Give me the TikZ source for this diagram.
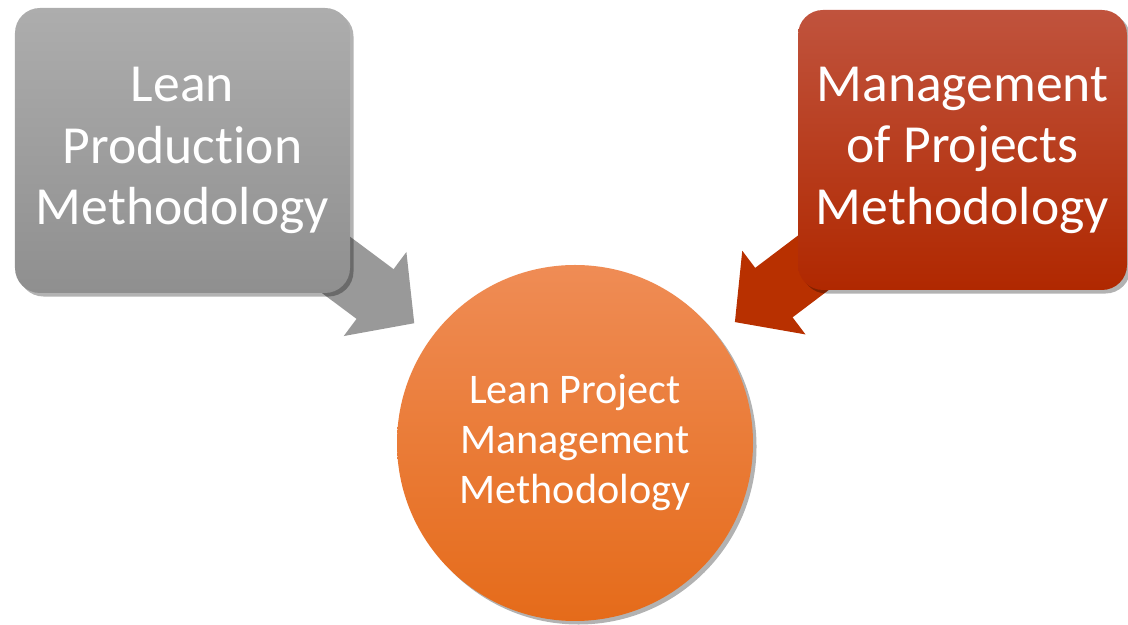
\documentclass[tikz,border=0pt]{standalone}
\usepackage{fontspec}
\setmainfont{Carlito}[Ligatures=NoCommon]
\usetikzlibrary{arrows.meta}
\usetikzlibrary{shadows}
\usetikzlibrary{backgrounds}
\definecolor{greytop}{HTML}{ADADAD}
\definecolor{greybot}{HTML}{8F8F8F}
\definecolor{greyarrow}{HTML}{999999}
\definecolor{redtop}{HTML}{C0533D}
\definecolor{redbot}{HTML}{B02800}
\definecolor{redarrow}{HTML}{B83000}
\definecolor{orangetop}{HTML}{EF8C55}
\definecolor{orangebot}{HTML}{E56B1A}
\tikzset{softshadow/.style = {drop shadow={shadow xshift=2pt, shadow yshift=-2pt,
                                           opacity=0.3, fill=black}}}
\tikzset{methodbox/.style = {rounded corners=0.5cm, text=white, align=center,
                             font=\fontsize{30.5}{35}\selectfont, softshadow}}
\tikzset{bigarrow/.style = {line width=1.24cm,
                            -{Triangle[width=2.04cm,length=0.98cm]},
                            shorten >=0.44cm}}

\begin{document}
\begin{tikzpicture}
	\useasboundingbox (0,0) rectangle (22.56,12.5);
	\node[methodbox, minimum width=6.7cm, minimum height=5.7cm,
	      top color=greytop, bottom color=greybot] (lpm) at (3.65,9.49)
	      {Lean\\Production\\Methodology};
	\node[methodbox, minimum width=6.58cm, minimum height=5.6cm,
	      top color=redtop, bottom color=redbot] (mpm) at (19.25,9.5)
	      {Management\\of Projects\\Methodology};
	\node[circle, minimum size=7.12cm, text=white, align=center,
	      font=\fontsize{24}{28.4}\selectfont, softshadow,
	      top color=orangetop, bottom color=orangebot] (lplm) at (11.5,3.64)
	      {Lean Project\\Management\\Methodology};
	\begin{scope}[on background layer]
		\draw[bigarrow, greyarrow] (lpm.center) -- (lplm);
		\draw[bigarrow, redarrow] (mpm.center) -- (lplm);
	\end{scope}
\end{tikzpicture}
\end{document}
